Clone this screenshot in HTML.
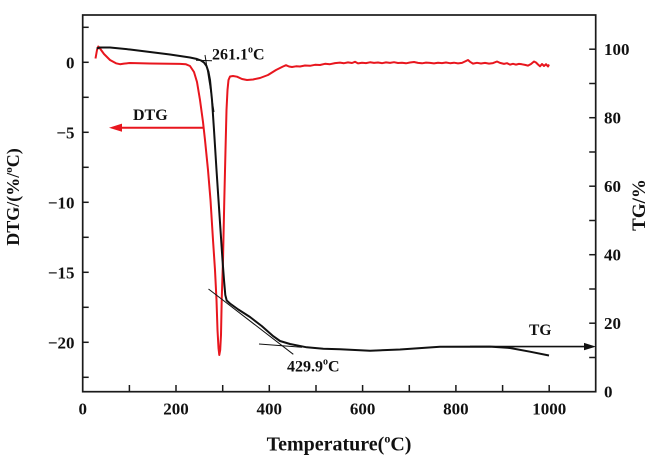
<!DOCTYPE html>
<html><head><meta charset="utf-8"><style>
html,body{margin:0;padding:0;background:#fff;}
svg{display:block;}
text{font-family:"Liberation Serif","Times New Roman",serif;font-weight:bold;fill:#111;}
</style></head><body>
<svg width="667" height="460" viewBox="0 0 667 460" xmlns="http://www.w3.org/2000/svg">
<rect width="667" height="460" fill="#fff"/>
<!-- frame -->
<rect x="82.7" y="15" width="513" height="376.7" fill="none" stroke="#1a1a1a" stroke-width="1.7"/>
<!-- left ticks -->
<g stroke="#1a1a1a" stroke-width="1.5">
<line x1="82.7" y1="27.3" x2="88.7" y2="27.3"/>
<line x1="82.7" y1="62.3" x2="88.7" y2="62.3"/>
<line x1="82.7" y1="97.3" x2="88.7" y2="97.3"/>
<line x1="82.7" y1="132.3" x2="88.7" y2="132.3"/>
<line x1="82.7" y1="167.3" x2="88.7" y2="167.3"/>
<line x1="82.7" y1="202.3" x2="88.7" y2="202.3"/>
<line x1="82.7" y1="237.3" x2="88.7" y2="237.3"/>
<line x1="82.7" y1="272.3" x2="88.7" y2="272.3"/>
<line x1="82.7" y1="307.3" x2="88.7" y2="307.3"/>
<line x1="82.7" y1="342.3" x2="88.7" y2="342.3"/>
<line x1="82.7" y1="377.3" x2="88.7" y2="377.3"/>
<!-- right ticks -->
<line x1="595.7" y1="49.2" x2="589.2" y2="49.2"/>
<line x1="595.7" y1="83.5" x2="589.2" y2="83.5"/>
<line x1="595.7" y1="117.7" x2="589.2" y2="117.7"/>
<line x1="595.7" y1="152" x2="589.2" y2="152"/>
<line x1="595.7" y1="186.2" x2="589.2" y2="186.2"/>
<line x1="595.7" y1="220.5" x2="589.2" y2="220.5"/>
<line x1="595.7" y1="254.7" x2="589.2" y2="254.7"/>
<line x1="595.7" y1="289" x2="589.2" y2="289"/>
<line x1="595.7" y1="323.2" x2="589.2" y2="323.2"/>
<line x1="595.7" y1="357.5" x2="589.2" y2="357.5"/>
<!-- bottom ticks -->
<line x1="129.4" y1="391.7" x2="129.4" y2="385"/>
<line x1="176" y1="391.7" x2="176" y2="385"/>
<line x1="222.7" y1="391.7" x2="222.7" y2="385"/>
<line x1="269.3" y1="391.7" x2="269.3" y2="385"/>
<line x1="316" y1="391.7" x2="316" y2="385"/>
<line x1="362.6" y1="391.7" x2="362.6" y2="385"/>
<line x1="409.3" y1="391.7" x2="409.3" y2="385"/>
<line x1="455.9" y1="391.7" x2="455.9" y2="385"/>
<line x1="502.6" y1="391.7" x2="502.6" y2="385"/>
<line x1="549.2" y1="391.7" x2="549.2" y2="385"/>
</g>
<!-- left labels -->
<g font-size="17" text-anchor="end">
<text x="74.5" y="68.3">0</text>
<text x="74.5" y="138.3">−5</text>
<text x="74.5" y="208.3">−10</text>
<text x="74.5" y="278.3">−15</text>
<text x="74.5" y="348.3">−20</text>
</g>
<!-- right labels -->
<g font-size="17" text-anchor="start">
<text x="604" y="55.2">100</text>
<text x="604" y="123.7">80</text>
<text x="604" y="192.2">60</text>
<text x="604" y="260.7">40</text>
<text x="604" y="329.2">20</text>
<text x="604" y="397.7">0</text>
</g>
<!-- bottom labels -->
<g font-size="17" text-anchor="middle">
<text x="82.7" y="414.5">0</text>
<text x="176" y="414.5">200</text>
<text x="269.3" y="414.5">400</text>
<text x="362.6" y="414.5">600</text>
<text x="455.9" y="414.5">800</text>
<text x="549.2" y="414.5">1000</text>
</g>
<!-- axis titles -->
<text x="339" y="450.5" font-size="20" text-anchor="middle">Temperature(<tspan font-size="12" dy="-8">o</tspan><tspan dy="8">C)</tspan></text>
<text transform="translate(19,197) rotate(-90)" font-size="18" text-anchor="middle">DTG/(%/<tspan font-size="11" dy="-7">o</tspan><tspan dy="7">C)</tspan></text>
<text transform="translate(645,205) rotate(-90)" font-size="19" text-anchor="middle">TG/%</text>

<!-- DTG red curve -->
<polyline fill="none" stroke="#e8161e" stroke-width="2" stroke-linejoin="round" points="
95.5,58.5 97,50 98.3,46.5 100,48.5 104,54 110,60 116,63.3 120,64.2 124,63.6 130,63 140,63.2 150,63.5 160,63.6 170,63.7 180,63.9 186,64.3 190,66 194,72 197,82 200,100 203,122 205,140 208,170 210.5,200 213,240 215,270 216.5,300 217.5,330 218.5,348 219.3,355 220.2,350 221,335 221.7,300 223,260 224.3,200 225.5,150 226.5,110 227.5,90 228.5,80 230,76.5 233,76 237,76.7 242,79 247,80 253,79.5 260,78 268,75 276,70 280,68 283,66.5 286,65.2 289,66.5 292,67 296,66.3 300,66.5 305,65.5 310,65.8 315,64.8 320,65 325,63.8 330,64.2 335,63.1 340,62.6 344,63.2 348,62.4 352,63.0 355,61.8 358,63.4 362,62.8 366,63.1 370,62.3 374,62.9 378,62.5 382,63.2 386,62.4 390,62.9 394,62.2 398,63.0 402,62.7 406,63.3 410,62.5 414,62.0 418,62.9 422,63.3 426,62.6 430,62.9 434,63.4 438,62.8 442,63.1 446,62.5 450,63.2 454,62.7 458,63.4 462,62.9 466,61.0 468,60.0 470,61.8 473,63.6 477,62.8 481,63.5 485,62.9 489,63.6 493,63.1 497,61.5 500,62.9 504,63.9 507,63.2 510,64.6 513,63.8 516,64.6 519,63.9 522,64.3 525,64.9 528,65.6 531,64.0 534,61.5 536,62.5 538,64.5 540,66.3 542,64.0 544,66.0 546,64.2 548,66.5 549,64.5"/>
<!-- DTG arrow -->
<line x1="204" y1="127.7" x2="118" y2="127.7" stroke="#e8161e" stroke-width="2"/>
<polygon points="109,127.7 122,123.6 122,131.8" fill="#e8161e"/>
<text x="133" y="120" font-size="16">DTG</text>

<!-- TG black curve -->
<polyline fill="none" stroke="#111" stroke-width="2" stroke-linejoin="round" points="
96.7,48.5 100,47.5 110,47.5 130,49.5 150,52 170,54.5 190,57.5 197,59 201,60.5 204,62.5 206.5,66 208.5,72 210,80 212,100 214,130 216.5,170 218.5,200 220.5,230 222.5,260 224,280 225.3,295 226.7,300.5 230,303.5 238.3,309.5 250,317 261.7,326 273.3,336.2 280,341 290,344 306.7,347.3 323.3,348.7 340,349.3 370,350.7 400,349.5 440,346.8 490,346.6 510,348 530,351.7 549,355.5"/>
<!-- tangent lines -->
<g stroke="#111" stroke-width="1">
<line x1="196" y1="60.2" x2="212" y2="60.8"/>
<line x1="205" y1="55" x2="214" y2="112"/>
<line x1="208.5" y1="289" x2="293.3" y2="354.3"/>
<line x1="259" y1="344" x2="302" y2="347.2"/>
</g>
<!-- TG arrow -->
<line x1="470" y1="346.6" x2="588" y2="346.6" stroke="#111" stroke-width="1.6"/>
<polygon points="596,346.6 584,342.9 584,350.3" fill="#111"/>
<text x="529" y="335" font-size="15.5">TG</text>

<!-- annotations -->
<text x="212" y="59.3" font-size="16">261.1<tspan font-size="10" dy="-7">o</tspan><tspan dy="7">C</tspan></text>
<text x="287" y="371.7" font-size="16">429.9<tspan font-size="10" dy="-7">o</tspan><tspan dy="7">C</tspan></text>
</svg>
</body></html>
